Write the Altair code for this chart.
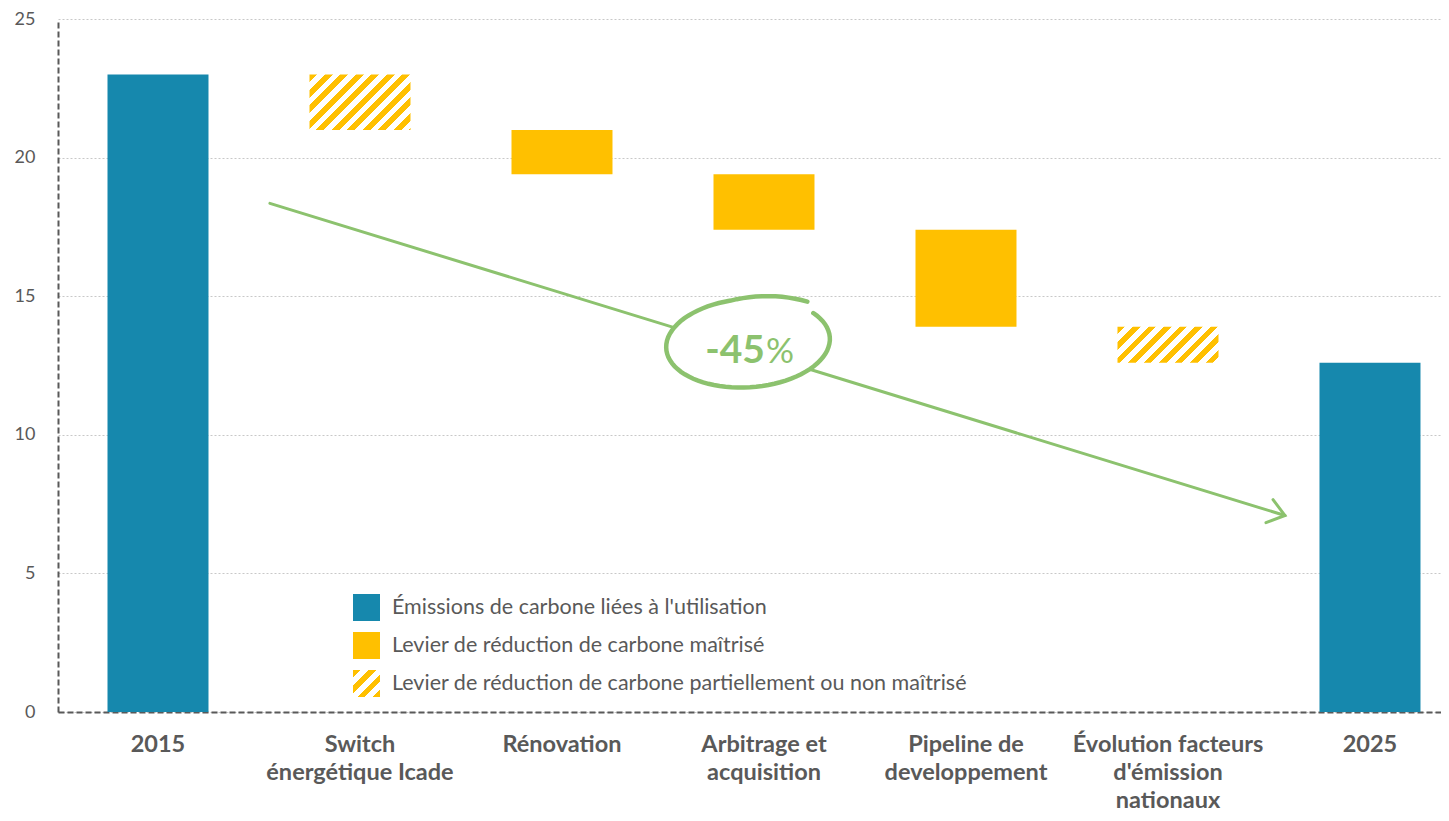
import math
import altair as alt
import pandas as pd

# ---------------- data ----------------
categories = ["2015", "Switch\nénergétique Icade", "Rénovation", "Arbitrage et\nacquisition",
              "Pipeline de\ndeveloppement", "Évolution facteurs\nd'émission\nnationaux", "2025"]
bar_start = [0.0, 23.0, 21.0, 19.4, 17.4, 13.9, 0.0]
bar_end = [23.0, 21.0, 19.4, 17.4, 13.9, 12.6, 12.6]
bar_kind = ["emission", "partial", "controlled", "controlled", "controlled", "partial", "emission"]

legend_labels = ["Émissions de carbone liées à l'utilisation",
                 "Levier de réduction de carbone maîtrisé",
                 "Levier de réduction de carbone partiellement ou non maîtrisé"]
legend_kinds = ["emission", "controlled", "partial"]

y_ticks = [0, 5, 10, 15, 20, 25]

# trend arrow annotation (x in category units, 0 = centre of first category)
arrow_x = [0.554, 5.579]
arrow_y = [18.35, 7.09]
head_x = [5.52, 5.579, 5.485]
head_y = [7.66, 7.09, 6.83]
badge_x = [2.921]
badge_y = [13.31]
badge_num = ["-45"]
badge_pct = ["%"]
badge_text_x = [3.005]
badge_text_y = [12.59]

# ---------------- style / layout ----------------
BLUE = "#1688AD"
YELLOW = "#FFC000"
GREEN = "#8CC26E"
GREY = "#595959"
FONT = "Lato"

W, H = 1383, 693
PAD_L, PAD_T, PAD_B = 50, 11, 100
Y_MAX = 25
PX_PER_UNIT = H / Y_MAX

P_IN, P_OUT, ALIGN = 0.5, 0.1733, 0.707
n_cat = len(categories)
step = W / (n_cat - P_IN + 2 * P_OUT)
start0 = (W - step * (n_cat - P_IN)) * ALIGN
bandwidth = step * (1 - P_IN)
centre0 = start0 + bandwidth / 2
u_min = -centre0 / step
u_max = (W - centre0) / step


def hatch(w, h, period=15.5, frac=0.5):
    L = w + h
    k = L / (w * w + h * h)
    stops = []
    i = 0
    while True:
        a = i * period / L
        if a >= 1:
            break
        b = min((i + frac) * period / L, 1)
        c = min((i + 1) * period / L, 1)
        stops += [{"offset": a, "color": YELLOW}, {"offset": b, "color": YELLOW},
                  {"offset": b, "color": "#FFFFFF"}, {"offset": c, "color": "#FFFFFF"}]
        i += 1
    return {"gradient": "linear", "x1": 0, "y1": 0, "x2": w * k, "y2": h * k, "stops": stops}


df = pd.DataFrame({"category": categories, "start": bar_start, "end": bar_end, "kind": bar_kind})

band_scale = alt.Scale(domain=categories, paddingInner=P_IN, paddingOuter=P_OUT, align=ALIGN)
y_scale = alt.Scale(domain=[0, Y_MAX], nice=False, zero=True)
q_scale = alt.Scale(domain=[u_min, u_max], nice=False, zero=False)

x_axis = alt.Axis(title=None, labelExpr="split(datum.label, '\\n')", labelAngle=0, labelFont=FONT,
                  labelFontSize=23.5, labelFontWeight="bold", labelColor=GREY, labelLineHeight=28,
                  labelPadding=20, labelLimit=0, ticks=False, tickSize=0, grid=False,
                  domainColor=GREY, domainWidth=2, domainDash=[6, 3], labelBaseline="top")
y_axis = alt.Axis(title=None, values=y_ticks, labelFont=FONT, labelFontSize=18, labelColor=GREY,
                  labelPadding=23, ticks=False, tickSize=0, grid=True, gridColor="#C8C8C8",
                  gridDash=[2, 2], gridWidth=1, domainColor=GREY, domainWidth=2, domainDash=[6, 3])

base = alt.Chart(df)

emission = base.transform_filter(alt.datum.kind == "emission").mark_bar(color=BLUE, strokeWidth=0).encode(
    x=alt.X("category:N", sort=categories, scale=band_scale, axis=x_axis),
    y=alt.Y("start:Q", scale=y_scale, axis=y_axis),
    y2="end:Q",
)
controlled = base.transform_filter(alt.datum.kind == "controlled").mark_bar(color=YELLOW, strokeWidth=0).encode(
    x=alt.X("category:N", sort=categories, scale=band_scale, axis=None),
    y=alt.Y("start:Q", scale=y_scale),
    y2="end:Q",
)
layers = [emission, controlled]
for c, s, e, k in zip(categories, bar_start, bar_end, bar_kind):
    if k != "partial":
        continue
    hpx = abs(s - e) * PX_PER_UNIT
    layers.append(
        base.transform_filter(alt.datum.category == c).mark_bar(fill=hatch(bandwidth, hpx), strokeWidth=0).encode(
            x=alt.X("category:N", sort=categories, scale=band_scale, axis=None),
            y=alt.Y("start:Q", scale=y_scale),
            y2="end:Q",
        )
    )

# arrow
arrow_df = pd.DataFrame({"u": arrow_x, "v": arrow_y, "o": list(range(len(arrow_x)))})
head_df = pd.DataFrame({"u": head_x, "v": head_y, "o": list(range(len(head_x)))})
arrow = alt.Chart(arrow_df).mark_line(color=GREEN, strokeWidth=3, strokeCap="round").encode(
    x=alt.X("u:Q", scale=q_scale, axis=None), y=alt.Y("v:Q", scale=y_scale), order="o:Q")
head = alt.Chart(head_df).mark_line(color=GREEN, strokeWidth=3, strokeCap="round", strokeJoin="miter").encode(
    x=alt.X("u:Q", scale=q_scale, axis=None), y=alt.Y("v:Q", scale=y_scale), order="o:Q")

# hand-drawn ellipse shape (style)
pts = []
nseg = 80
phi = math.radians(-4)
for i in range(nseg + 1):
    t = i / nseg
    th = math.radians(-48 - 347 * t)
    r = 1 + 0.13 * max(0.0, 1 - t / 0.15)
    x = r * math.cos(th)
    y = 0.54 * r * math.sin(th)
    xr = x * math.cos(phi) - y * math.sin(phi)
    yr = x * math.sin(phi) + y * math.cos(phi)
    pts.append(f"{xr:.3f} {yr:.3f}")
ellipse_path = "M " + " L ".join(pts)

badge_df = pd.DataFrame({"u": badge_x, "v": badge_y})
ellipse = alt.Chart(badge_df).mark_point(shape=ellipse_path, size=164 ** 2, filled=True, fill="white",
                                         fillOpacity=1, stroke=GREEN, strokeWidth=4.5, opacity=1,
                                         strokeCap="round").encode(
    x=alt.X("u:Q", scale=q_scale, axis=None), y=alt.Y("v:Q", scale=y_scale))

txt_df = pd.DataFrame({"u": badge_text_x, "v": badge_text_y, "num": badge_num, "pct": badge_pct})
num_txt = alt.Chart(txt_df).mark_text(align="right", baseline="alphabetic", font=FONT, fontSize=39,
                                      fontWeight="bold", color=GREEN).encode(
    x=alt.X("u:Q", scale=q_scale, axis=None), y=alt.Y("v:Q", scale=y_scale), text="num:N")
pct_txt = alt.Chart(txt_df).mark_text(align="left", baseline="alphabetic", font=FONT, fontSize=35,
                                      fontWeight="normal", color=GREEN, dx=1).encode(
    x=alt.X("u:Q", scale=q_scale, axis=None), y=alt.Y("v:Q", scale=y_scale), text="pct:N")

layers += [arrow, head, ellipse, num_txt, pct_txt]

# custom legend
LEG_X, LEG_Y0, LEG_DY, SQ = 295, 575, 38, 27
for i, (lab, kind) in enumerate(zip(legend_labels, legend_kinds)):
    ldf = pd.DataFrame({"label": [lab]})
    if kind == "emission":
        fill = BLUE
    elif kind == "controlled":
        fill = YELLOW
    else:
        fill = hatch(SQ, SQ)
    y0 = LEG_Y0 + i * LEG_DY
    layers.append(alt.Chart(ldf).mark_rect(fill=fill, strokeWidth=0).encode(
        x=alt.value(LEG_X), x2=alt.value(LEG_X + SQ), y=alt.value(y0), y2=alt.value(y0 + SQ)))
    layers.append(alt.Chart(ldf).mark_text(align="left", baseline="middle", font=FONT, fontSize=21.5,
                                           color=GREY).encode(
        x=alt.value(LEG_X + 39), y=alt.value(y0 + SQ / 2), text="label:N"))

chart = alt.layer(*layers).resolve_scale(x="independent").properties(
    width=W, height=H,
    autosize=alt.AutoSizeParams(type="none"),
    padding={"left": PAD_L, "top": PAD_T, "right": 0, "bottom": PAD_B},
).configure_view(stroke=None)

chart.save("out.html", embed_options={"renderer": "svg", "actions": False})
